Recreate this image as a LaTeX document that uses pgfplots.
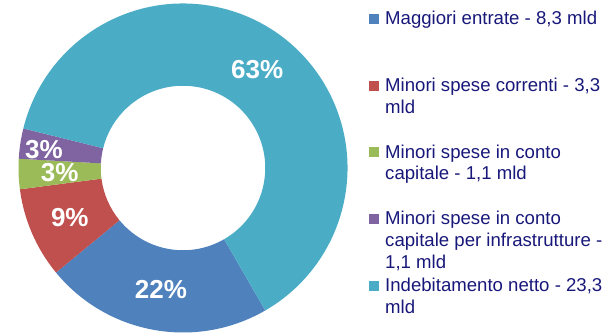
\documentclass[border=0pt]{standalone}
\usepackage{pgfplots}
\pgfplotsset{compat=1.18}
\usepackage{pgfplotstable}
\usepackage{fontspec}
\setmainfont{Liberation Sans}

\definecolor{cBlue}{RGB}{79,129,189}
\definecolor{cRed}{RGB}{192,80,77}
\definecolor{cGreen}{RGB}{155,187,89}
\definecolor{cPurple}{RGB}{128,100,162}
\definecolor{cTeal}{RGB}{75,172,198}
\definecolor{legtext}{RGB}{24,24,122}

\tikzset{pct label/.style={text=white, font=\fontsize{26}{26}\selectfont\bfseries, inner sep=0pt}}

% Composition of the manoeuvre (billions of euro)
\pgfplotstableread{
value color   dx
8.3   cBlue   0
3.3   cRed    0
1.1   cGreen  0
1.1   cPurple -17
23.3  cTeal   0
}\budget

\begin{document}
\begin{tikzpicture}
\path[use as bounding box] (0pt,0pt) rectangle (616pt,336pt);

% total of all slices
\gdef\total{0}
\pgfplotstableforeachcolumnelement{value}\of\budget\as\val{%
  \pgfmathsetmacro\tmp{\total+\val}\xdef\total{\tmp}}

\begin{axis}[
  at={(183pt,168pt)}, anchor=origin,
  x=164.5pt, y=164.5pt,
  xmin=-1.05, xmax=1.05, ymin=-1.05, ymax=1.05,
  hide axis, clip=false, disabledatascaling,
]
\xdef\angA{-60}
\pgfplotsinvokeforeach{0,...,4}{
  \pgfplotstablegetelem{#1}{value}\of\budget \let\val\pgfplotsretval
  \pgfplotstablegetelem{#1}{color}\of\budget \let\col\pgfplotsretval
  \pgfplotstablegetelem{#1}{dx}\of\budget \let\dxs\pgfplotsretval
  \pgfmathsetmacro\angB{\angA-360*\val/\total}
  \pgfmathsetmacro\angM{(\angA+\angB)/2}
  \pgfmathtruncatemacro\pct{round(100*\val/\total)}
  \edef\slice{\noexpand\fill[\col] (axis cs:{cos(\angA)},{sin(\angA)})
     arc[start angle=\angA, end angle=\angB, radius=164.5pt]
     -- (axis cs:{0.5*cos(\angB)},{0.5*sin(\angB)})
     arc[start angle=\angB, end angle=\angA, radius=82.25pt] -- cycle;}
  \slice
  \edef\lbl{\noexpand\node[pct label, xshift=\dxs pt]
     at (axis cs:{0.75*cos(\angM)},{0.75*sin(\angM)}) {\pct\noexpand\%};}
  \lbl
  \xdef\angA{\angB}
}
\end{axis}

% legend
\begin{scope}[every node/.style={anchor=base west, inner sep=0pt, text=legtext,
    font=\fontsize{18.6}{21.6}\selectfont}]
  \fill[cBlue]   (369pt,312pt) rectangle ++(10pt,10pt);
  \node at (385pt,311pt) {Maggiori entrate - 8,3 mld};
  \fill[cRed]    (369pt,245.3pt) rectangle ++(10pt,10pt);
  \node at (385pt,244.3pt) {Minori spese correnti - 3,3};
  \node at (385pt,222.7pt) {mld};
  \fill[cGreen]  (369pt,178.7pt) rectangle ++(10pt,10pt);
  \node at (385pt,177.7pt) {Minori spese in conto};
  \node at (385pt,156pt) {capitale - 1,1 mld};
  \fill[cPurple] (369pt,112pt) rectangle ++(10pt,10pt);
  \node at (385pt,111pt) {Minori spese in conto};
  \node at (385pt,89.3pt) {capitale per infrastrutture -};
  \node at (385pt,67.7pt) {1,1 mld};
  \fill[cTeal]   (369pt,45.3pt) rectangle ++(10pt,10pt);
  \node at (385pt,44.3pt) {Indebitamento netto - 23,3};
  \node at (385pt,22.7pt) {mld};
\end{scope}
\end{tikzpicture}
\end{document}
